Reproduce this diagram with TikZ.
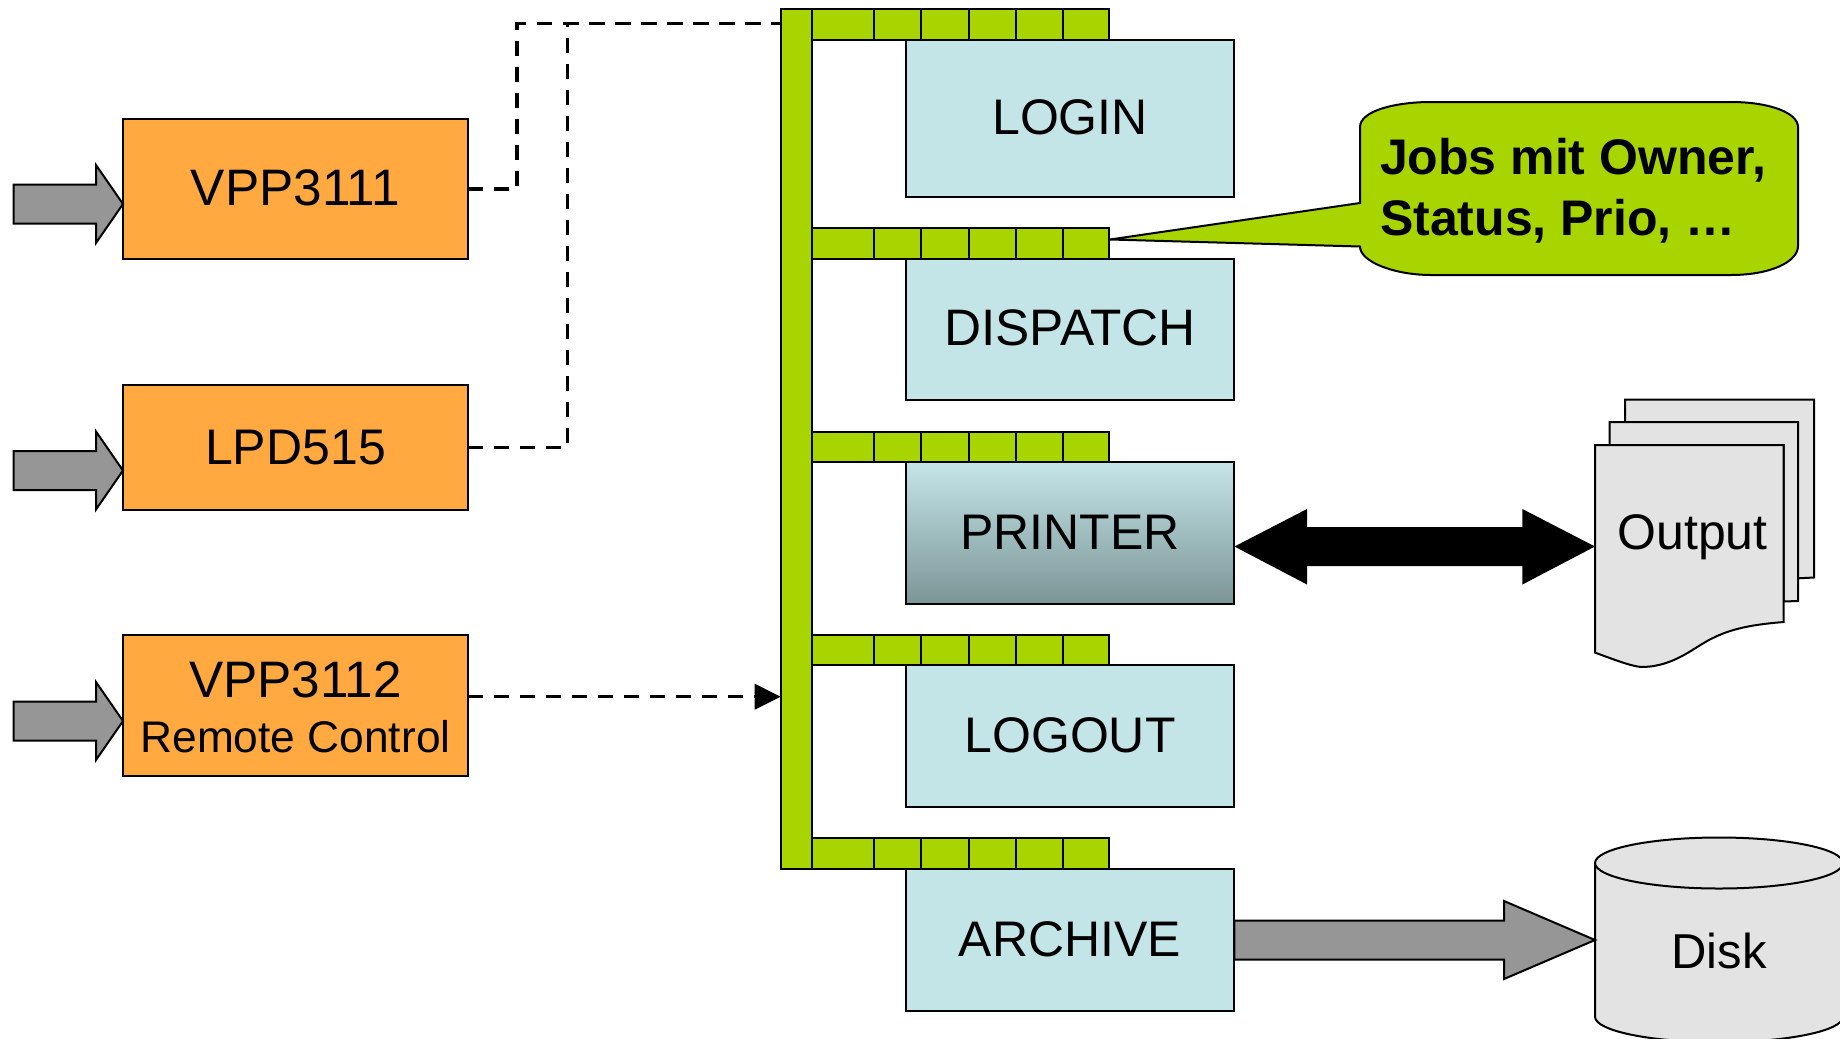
\documentclass[tikz,border=0pt]{standalone}
\usepackage{fontspec}
\setmainfont{Liberation Sans}
\usetikzlibrary{calc}
\definecolor{boxorange}{HTML}{FFA940}
\definecolor{boxblue}{HTML}{C4E5E8}
\definecolor{boxblueDark}{HTML}{7B9596}
\definecolor{qgreen}{HTML}{A8D500}
\definecolor{agray}{HTML}{969696}
\definecolor{docgray}{HTML}{E3E3E3}
\newcommand{\bigfont}{\fontsize{50}{55}\selectfont}
\newcommand{\widefont}{\fontsize{51.3}{55}\selectfont}
\newcommand{\midfont}{\fontsize{44.3}{55}\selectfont}
\newcommand{\blockarrow}[6][agray]{%
  \draw[arrowline,fill=#1] ($(#2)+(0,-#5)$) -- ($(#3)+(-#4,-#5)$) -- ($(#3)+(-#4,-#6)$) -- (#3)
    -- ($(#3)+(-#4,#6)$) -- ($(#3)+(-#4,#5)$) -- ($(#2)+(0,#5)$) -- cycle;}
\tikzset{
  every node/.style={inner sep=0pt,outer sep=0pt,font=\bigfont},
  srcbox/.style={draw=black,line width=2pt,fill=boxorange,minimum width=345pt,text height=33pt,text depth=0pt},
  jobbox/.style={draw=black,line width=2pt,fill=boxblue,minimum width=328.9pt,text height=33pt,text depth=0pt},
  queuecell/.style={draw=black,line width=2pt,fill=qgreen},
  arrowline/.style={draw=black,line width=2pt,line join=miter},
  dashline/.style={draw=black,line width=3.5pt,dash pattern=on 15pt off 11pt},
  docshape/.style={draw=black,line width=2pt,fill=docgray},
}
\begin{document}
\begin{tikzpicture}[x=1pt,y=-1pt]
\useasboundingbox (0,0) rectangle (1840,1039);
% sources
\node[srcbox,minimum height=140.5pt,font=\widefont] (vpp1) at (295.5,188.75) {VPP3111};
\node[srcbox,minimum height=125pt] (lpd) at (295.5,447.5) {LPD515};
\node[srcbox,minimum height=141pt,text height=,text depth=,align=center] (vpp2) at (295.5,705.5) {\widefont\rule{0pt}{39pt}VPP3112\\\midfont Remote Control};
% input arrows
\coordinate (in1s) at (13.6,204); \coordinate (in1t) at (vpp1.west |- in1s);
\coordinate (in2s) at (13.6,470.5); \coordinate (in2t) at (lpd.west |- in2s);
\coordinate (in3s) at (13.6,721); \coordinate (in3t) at (vpp2.west |- in3s);
\blockarrow{in1s}{in1t}{27}{19.5}{39}
\blockarrow{in2s}{in2t}{27}{19.5}{39}
\blockarrow{in3s}{in3t}{27}{19.5}{39}
% bus
\node[queuecell,minimum width=31.4pt,minimum height=860.5pt] (bus) at (796.3,438.75) {};
% job boxes
\node[jobbox,minimum height=157pt] (login) at (1070,118) {LOGIN};
\node[jobbox,minimum height=141.5pt,font=\widefont] (dispatch) at (1070,329.25) {DISPATCH};
\node[jobbox,minimum height=141.5pt,top color=boxblue,bottom color=boxblueDark] (printer) at (1070,533) {PRINTER};
\node[jobbox,minimum height=142pt] (logout) at (1070,736) {LOGOUT};
\node[jobbox,minimum height=142pt] (archive) at (1070,940) {ARCHIVE};
% queues
\foreach \n/\t/\b in {a/8.5/39.5,b/228/258.5,c/432/462,d/635/665,e/838/869}{
  \foreach \i/\l/\r in {1/812/874,2/874/921,3/921/968.6,4/968.6/1016,5/1016/1063,6/1063/1109}{
    \draw[queuecell] (\l,\t) rectangle (\r,\b) coordinate (q\n\i);
  }
}
% dashed links
\coordinate (j1a) at (517,188.75);
\coordinate (j1b) at (517,23.7);
\coordinate (j2a) at (567.7,447.5);
\coordinate (j2b) at (567.7,23.7);
\coordinate (j3) at (vpp2.east |- 0,696.7);
\coordinate (j3t) at (bus.west |- j3);
\coordinate (j3h) at (754.7,696.7);
\draw[dashline] (vpp1.east) -- (j1a) -- (j1b) -- (bus.west |- j1b);
\draw[dashline] (lpd.east) -- (j2a) -- (j2b) -- (bus.west |- j2b);
\draw[dashline] (j3) -- (j3h);
\fill[black] (j3t) -- ($(j3h)+(0,-13)$) -- ($(j3h)+(0,13)$) -- cycle;
% callout
\coordinate (tip) at (1110,239.5);
\draw[draw=black,line width=2pt,fill=qgreen,line join=miter]
  (1360,127) .. controls (1360,111) and (1395,102) .. (1431,102) -- (1731,102)
  .. controls (1770,102) and (1798,113) .. (1798,127) -- (1798,246)
  .. controls (1798,262) and (1770,275) .. (1731,275) -- (1431,275)
  .. controls (1395,275) and (1360,262) .. (1360,246.5) -- (tip) -- (1360,203) -- cycle;
\node[anchor=west,align=left,font=\fontsize{50}{60.5}\selectfont\bfseries] (note) at (1380,190.5) {Jobs mit Owner,\\Status, Prio, …};
% output documents
\draw[docshape] (1625,445) -- (1625,399.6) -- (1814,399.6) -- (1814,577.5) -- (1785,579) -- (1785,445) -- cycle;
\draw[docshape] (1609.7,445) -- (1609.7,422) -- (1798,422) -- (1798,601) -- (1783.5,601.5) -- (1783.5,445) -- cycle;
\draw[docshape] (1595,445) -- (1783.5,445) -- (1783.5,622)
  .. controls (1760,624) and (1735,627) .. (1714,637.5)
  .. controls (1695,646) and (1675,667) .. (1641,667)
  .. controls (1630,666) and (1610,658) .. (1595,652.6) -- cycle;
\node[anchor=base] (output) at (1692.5,549) {Output};
\coordinate (outtip) at (1595,546.5);
% double black arrow
\coordinate (printerside) at (printer.east |- outtip);
\fill[black] (printerside) -- (1307,509) -- (1307,527) -- (1522.4,527) -- (1522.4,509) -- (outtip)
  -- (1522.4,584.5) -- (1522.4,566) -- (1307,566) -- (1307,584.5) -- cycle;
% disk
\draw[docshape] (1595,863) -- (1595,1016.7) arc[start angle=180,end angle=0,x radius=124,y radius=25.5] -- (1843,863);
\draw[docshape] (1719,863) ellipse[x radius=124,y radius=25.5];
\node[anchor=base,font=\fontsize{49}{55}\selectfont] (disk) at (1719,968) {Disk};
% archive arrow
\coordinate (disktip) at (1595,940);
\blockarrow{archive.east}{disktip}{91}{19.5}{39}
\end{tikzpicture}
\end{document}
